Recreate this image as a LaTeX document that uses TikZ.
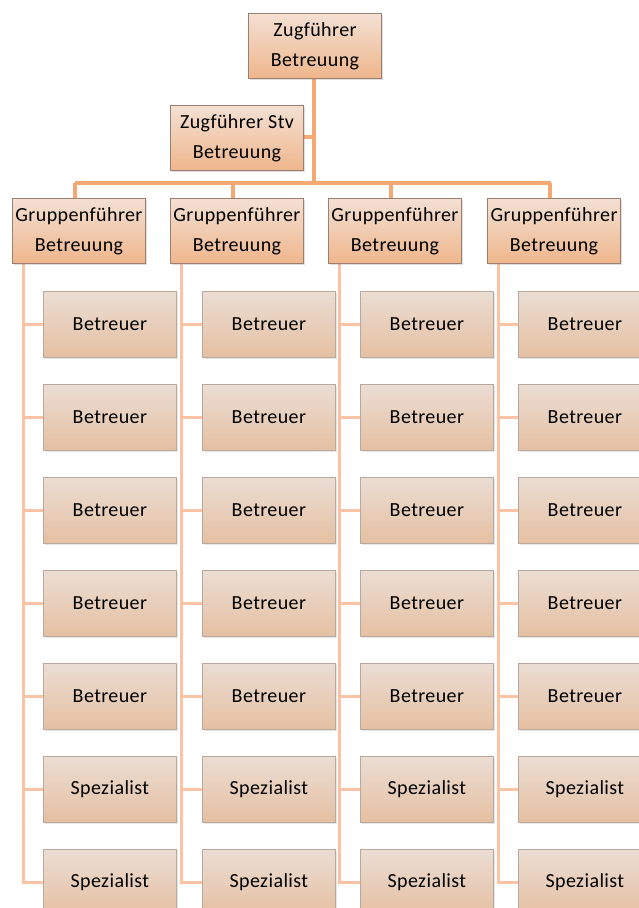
\documentclass[tikz,border=0pt]{standalone}
\usepackage{fontspec}
\setmainfont[LetterSpace=2]{Carlito}
\usetikzlibrary{shadows}
\definecolor{headtop}{HTML}{F3E0D3}
\definecolor{headbot}{HTML}{EFB68C}
\definecolor{headline}{HTML}{9C7F6E}
\definecolor{celltop}{HTML}{EBDDD3}
\definecolor{cellbot}{HTML}{E5C0A2}
\definecolor{cellline}{HTML}{B8A89D}
\definecolor{mainlink}{HTML}{F6A873}
\definecolor{sublink}{HTML}{FBC3A3}
\tikzset{
  x=1pt, y=-1pt,
  headbox/.style={draw=headline, line width=1pt, top color=headtop, bottom color=headbot,
    minimum width=133pt, minimum height=65pt, anchor=north west, inner sep=0pt,
    align=center, font=\fontsize{20}{30}\selectfont,
    drop shadow={shadow xshift=1.5pt, shadow yshift=-1.5pt, opacity=0.25}},
  cellbox/.style={draw=cellline, line width=0.8pt, top color=celltop, bottom color=cellbot,
    minimum width=133pt, minimum height=66pt, anchor=north west, inner sep=0pt,
    align=center, font=\fontsize{20}{30}\selectfont,
    drop shadow={shadow xshift=1.5pt, shadow yshift=-1.5pt, opacity=0.2}},
  mainlink/.style={draw=mainlink, line width=4pt},
  sublink/.style={draw=sublink, line width=3pt}
}
\begin{document}
\begin{tikzpicture}
\useasboundingbox (0,0) rectangle (639,908);
\clip (0,0) rectangle (639,908);
% top of the hierarchy
\coordinate (bus) at (314,183);
\draw[mainlink] (314,78) -- (bus);
\draw[mainlink] (302,137) -- (314,137);
\draw[mainlink] (75,183) -- (551,183);
\node[headbox] (zf) at (248,13) {Zugführer\\Betreuung};
\node[headbox] (stv) at (170,105) {Zugführer Stv\\Betreuung};
% groups
\foreach \g/\gx/\cx in {1/12/43, 2/170/202, 3/328/360, 4/487/518}{
  \pgfmathsetmacro{\stub}{\gx+63}
  \pgfmathsetmacro{\spine}{\gx+11}
  \draw[mainlink] (\stub,183) -- (\stub,198);
  \draw[sublink] (\spine,264) -- (\spine,882);
  \foreach \i/\lab in {0/Betreuer,1/Betreuer,2/Betreuer,3/Betreuer,4/Betreuer,5/Spezialist,6/Spezialist}{
    \pgfmathsetmacro{\ty}{291+93*\i}
    \pgfmathsetmacro{\my}{\ty+33}
    \draw[sublink] (\spine-1.5,\my) -- (\cx,\my);
    \node[cellbox] (c\g\i) at (\cx,\ty) {\lab};
  }
  \node[headbox] (g\g) at (\gx,198) {Gruppenführer\\Betreuung};
}
\end{tikzpicture}
\end{document}
